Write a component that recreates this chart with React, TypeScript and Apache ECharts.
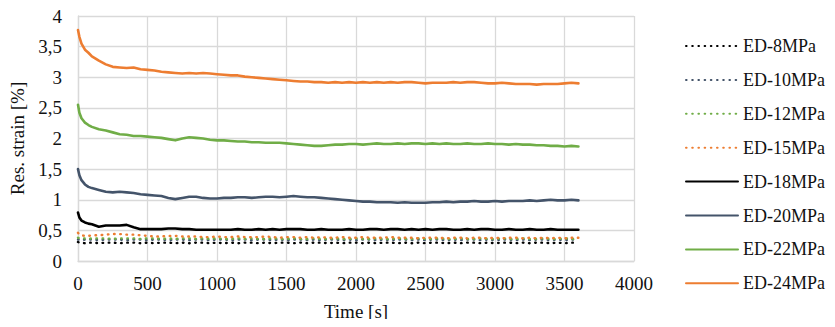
import React, { useEffect, useRef } from "react";
import * as echarts from "echarts";

const timeS = [0, 10, 25, 50, 75, 100, 150, 200, 250, 300, 350, 400, 450, 500, 550, 600, 650, 700, 750, 800, 850, 900, 950, 1000, 1050, 1100, 1150, 1200, 1250, 1300, 1350, 1400, 1450, 1500, 1550, 1600, 1650, 1700, 1750, 1800, 1850, 1900, 1950, 2000, 2050, 2100, 2150, 2200, 2250, 2300, 2350, 2400, 2450, 2500, 2550, 2600, 2650, 2700, 2750, 2800, 2850, 2900, 2950, 3000, 3050, 3100, 3150, 3200, 3250, 3300, 3350, 3400, 3450, 3500, 3550, 3600];

const ed8 = [0.31, 0.30, 0.30, 0.29, 0.30, 0.30, 0.29, 0.30, 0.30, 0.29, 0.30, 0.30, 0.29, 0.30, 0.29, 0.30, 0.30, 0.29, 0.30, 0.29, 0.30, 0.30, 0.29, 0.30, 0.29, 0.30, 0.29, 0.30, 0.30, 0.29, 0.30, 0.29, 0.30, 0.30, 0.29, 0.30, 0.29, 0.30, 0.30, 0.29, 0.30, 0.29, 0.30, 0.30, 0.29, 0.30, 0.29, 0.30, 0.30, 0.29, 0.30, 0.29, 0.30, 0.29, 0.30, 0.30, 0.29, 0.30, 0.29, 0.30, 0.30, 0.29, 0.30, 0.29, 0.30, 0.30, 0.29, 0.30, 0.29, 0.30, 0.30, 0.29, 0.30, 0.29, 0.30, 0.30];
const ed10 = [0.35, 0.35, 0.34, 0.35, 0.35, 0.35, 0.34, 0.35, 0.35, 0.35, 0.34, 0.35, 0.35, 0.34, 0.35, 0.35, 0.34, 0.35, 0.35, 0.34, 0.35, 0.35, 0.34, 0.35, 0.35, 0.34, 0.35, 0.35, 0.34, 0.35, 0.35, 0.34, 0.35, 0.34, 0.35, 0.35, 0.34, 0.35, 0.34, 0.35, 0.35, 0.34, 0.35, 0.34, 0.35, 0.35, 0.34, 0.35, 0.34, 0.35, 0.35, 0.34, 0.35, 0.34, 0.35, 0.35, 0.34, 0.35, 0.34, 0.35, 0.35, 0.34, 0.35, 0.34, 0.35, 0.35, 0.34, 0.35, 0.34, 0.35, 0.35, 0.34, 0.35, 0.34, 0.35, 0.35];
const ed12 = [0.38, 0.37, 0.37, 0.37, 0.36, 0.37, 0.37, 0.37, 0.36, 0.37, 0.37, 0.37, 0.36, 0.37, 0.37, 0.36, 0.37, 0.36, 0.37, 0.37, 0.36, 0.37, 0.36, 0.37, 0.36, 0.36, 0.37, 0.36, 0.37, 0.36, 0.36, 0.37, 0.36, 0.36, 0.37, 0.36, 0.36, 0.37, 0.36, 0.36, 0.37, 0.36, 0.36, 0.37, 0.36, 0.36, 0.37, 0.36, 0.36, 0.37, 0.36, 0.36, 0.37, 0.36, 0.36, 0.37, 0.36, 0.36, 0.37, 0.36, 0.36, 0.37, 0.36, 0.36, 0.37, 0.36, 0.36, 0.37, 0.36, 0.36, 0.37, 0.36, 0.36, 0.37, 0.36, 0.36];
const ed15 = [0.46, 0.43, 0.42, 0.41, 0.41, 0.42, 0.42, 0.43, 0.44, 0.44, 0.43, 0.43, 0.42, 0.41, 0.40, 0.40, 0.41, 0.41, 0.40, 0.40, 0.40, 0.39, 0.39, 0.40, 0.39, 0.39, 0.40, 0.39, 0.39, 0.39, 0.40, 0.39, 0.38, 0.39, 0.39, 0.38, 0.39, 0.38, 0.39, 0.38, 0.38, 0.39, 0.38, 0.38, 0.39, 0.38, 0.38, 0.38, 0.39, 0.38, 0.38, 0.38, 0.37, 0.38, 0.38, 0.38, 0.37, 0.38, 0.38, 0.37, 0.38, 0.38, 0.37, 0.38, 0.37, 0.38, 0.38, 0.37, 0.38, 0.37, 0.38, 0.37, 0.38, 0.37, 0.38, 0.38];
const ed18 = [0.79, 0.71, 0.66, 0.63, 0.61, 0.60, 0.56, 0.58, 0.58, 0.58, 0.59, 0.55, 0.52, 0.52, 0.52, 0.52, 0.53, 0.53, 0.52, 0.52, 0.51, 0.51, 0.51, 0.51, 0.51, 0.51, 0.52, 0.51, 0.51, 0.52, 0.51, 0.52, 0.51, 0.52, 0.52, 0.52, 0.51, 0.51, 0.52, 0.51, 0.51, 0.51, 0.52, 0.51, 0.51, 0.52, 0.52, 0.51, 0.52, 0.52, 0.51, 0.52, 0.51, 0.52, 0.51, 0.52, 0.52, 0.51, 0.51, 0.52, 0.51, 0.52, 0.52, 0.51, 0.51, 0.52, 0.51, 0.51, 0.52, 0.51, 0.51, 0.52, 0.51, 0.51, 0.51, 0.51];
const ed20 = [1.50, 1.40, 1.32, 1.25, 1.21, 1.19, 1.16, 1.13, 1.12, 1.13, 1.12, 1.11, 1.09, 1.08, 1.07, 1.06, 1.03, 1.01, 1.03, 1.05, 1.05, 1.03, 1.02, 1.02, 1.03, 1.03, 1.04, 1.04, 1.03, 1.04, 1.05, 1.05, 1.04, 1.05, 1.06, 1.05, 1.04, 1.04, 1.03, 1.02, 1.01, 1.00, 0.99, 0.98, 0.97, 0.97, 0.96, 0.96, 0.96, 0.95, 0.96, 0.95, 0.95, 0.95, 0.96, 0.96, 0.97, 0.96, 0.97, 0.97, 0.98, 0.97, 0.97, 0.98, 0.97, 0.98, 0.98, 0.98, 0.99, 0.98, 0.99, 1.00, 0.99, 0.99, 1.00, 0.99];
const ed22 = [2.55, 2.42, 2.33, 2.26, 2.22, 2.19, 2.15, 2.13, 2.10, 2.07, 2.06, 2.04, 2.04, 2.03, 2.02, 2.01, 1.99, 1.97, 2.00, 2.02, 2.01, 2.00, 1.98, 1.97, 1.97, 1.96, 1.95, 1.95, 1.94, 1.94, 1.93, 1.93, 1.93, 1.92, 1.91, 1.90, 1.89, 1.88, 1.88, 1.89, 1.90, 1.90, 1.91, 1.91, 1.90, 1.91, 1.92, 1.91, 1.91, 1.92, 1.91, 1.92, 1.92, 1.91, 1.92, 1.91, 1.92, 1.91, 1.91, 1.92, 1.91, 1.91, 1.92, 1.91, 1.91, 1.90, 1.91, 1.90, 1.90, 1.89, 1.89, 1.88, 1.88, 1.87, 1.88, 1.87];
const ed24 = [3.77, 3.66, 3.55, 3.45, 3.40, 3.34, 3.27, 3.21, 3.17, 3.16, 3.15, 3.16, 3.13, 3.12, 3.11, 3.09, 3.08, 3.07, 3.06, 3.07, 3.06, 3.07, 3.06, 3.05, 3.04, 3.03, 3.03, 3.01, 3.00, 2.99, 2.98, 2.97, 2.96, 2.95, 2.94, 2.93, 2.93, 2.92, 2.92, 2.91, 2.92, 2.91, 2.92, 2.91, 2.92, 2.91, 2.92, 2.91, 2.92, 2.91, 2.92, 2.92, 2.91, 2.90, 2.91, 2.91, 2.91, 2.92, 2.91, 2.92, 2.92, 2.91, 2.90, 2.90, 2.91, 2.90, 2.89, 2.89, 2.89, 2.88, 2.89, 2.89, 2.89, 2.90, 2.91, 2.90];

const seriesNames = ["ED-8MPa", "ED-10MPa", "ED-12MPa", "ED-15MPa", "ED-18MPa", "ED-20MPa", "ED-22MPa", "ED-24MPa"];
const seriesValues = [ed8, ed10, ed12, ed15, ed18, ed20, ed22, ed24];
const seriesColors = ["#000000", "#44546A", "#70AD47", "#ED7D31", "#000000", "#44546A", "#70AD47", "#ED7D31"];
const seriesDotted = [true, true, true, true, false, false, false, false];

const xTicks = { min: 0, max: 4000, interval: 500 };
const yTicks = { min: 0, max: 4, interval: 0.5 };

const FONT = "Liberation Serif";
const FS = 19;
const LEGEND_FS = 18;
const TEXT_COLOR = "#111111";

export default function App() {
  const ref = useRef<HTMLDivElement>(null);
  useEffect(() => {
    if (!ref.current) return;
    const chart = echarts.init(ref.current, null, { renderer: "svg" });
    const series = seriesNames.map((name, i) => ({
      name,
      type: "line",
      symbol: "none",
      showSymbol: false,
      data: timeS.map((t, k) => [t, seriesValues[i][k]]),
      lineStyle: seriesDotted[i]
        ? { color: seriesColors[i], width: 2.4, type: [0.6, 5.6], cap: "round" }
        : { color: seriesColors[i], width: 2.6, type: "solid", cap: "round", join: "round" },
      itemStyle: { color: seriesColors[i] },
      z: 2 + i,
    }));
    chart.setOption({
      animation: false,
      textStyle: { fontFamily: FONT },
      grid: { left: 78, right: 201, top: 16, bottom: 66, containLabel: false },
      legend: {
        orient: "vertical",
        left: 685,
        top: 37,
        padding: 0,
        itemWidth: 52,
        itemHeight: 14,
        itemGap: 15.9,
        itemStyle: { opacity: 0 },
        textStyle: { fontFamily: FONT, fontSize: LEGEND_FS, color: TEXT_COLOR, lineHeight: 18 },
        data: seriesNames,
      },
      xAxis: {
        type: "value",
        min: xTicks.min,
        max: xTicks.max,
        interval: xTicks.interval,
        name: "Time [s]",
        nameLocation: "middle",
        nameGap: 41,
        nameTextStyle: { fontFamily: FONT, fontSize: FS, color: TEXT_COLOR },
        axisLine: { show: true, lineStyle: { color: "#d9d9d9", width: 1.3 } },
        axisTick: { show: false },
        splitLine: { show: true, lineStyle: { color: "#d9d9d9", width: 1.3 } },
        axisLabel: {
          fontFamily: FONT,
          fontSize: FS,
          color: TEXT_COLOR,
          margin: 13,
          formatter: (v: number) => String(v),
        },
      },
      yAxis: {
        type: "value",
        min: yTicks.min,
        max: yTicks.max,
        interval: yTicks.interval,
        name: "Res. strain [%]",
        nameLocation: "middle",
        nameGap: 50,
        nameTextStyle: { fontFamily: FONT, fontSize: FS, color: TEXT_COLOR },
        axisLine: { show: true, lineStyle: { color: "#d9d9d9", width: 1.3 } },
        axisTick: { show: false },
        splitLine: { show: true, lineStyle: { color: "#d9d9d9", width: 1.3 } },
        axisLabel: {
          fontFamily: FONT,
          fontSize: FS,
          color: TEXT_COLOR,
          margin: 16,
          formatter: (v: number) => String(v).replace(".", ","),
        },
      },
      series,
    });
    return () => chart.dispose();
  }, []);
  return <div ref={ref} style={{ width: 835, height: 327, margin: -8 }} />;
}
